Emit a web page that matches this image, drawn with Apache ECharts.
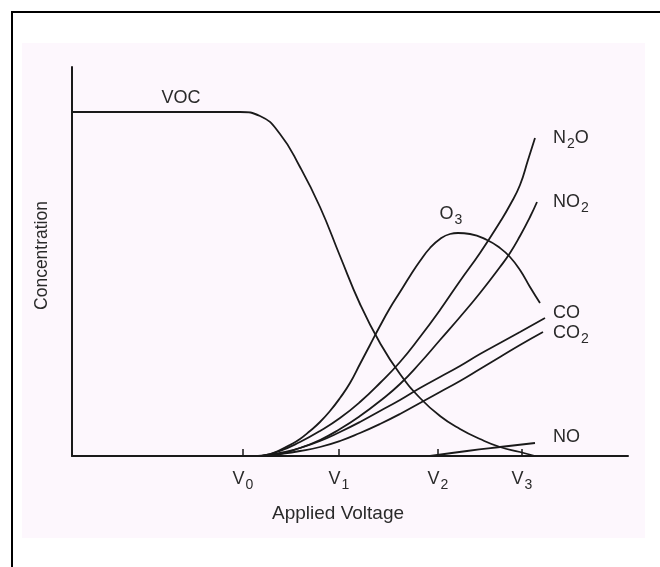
<!DOCTYPE html>
<html>
<head>
<meta charset="utf-8">
<script src="https://cdn.jsdelivr.net/npm/echarts@6/dist/echarts.min.js"></script>
<style>
html,body{margin:0;padding:0;background:#fff;overflow:hidden}
#frame{position:absolute;left:11px;top:11px;width:700px;height:600px;border-left:2px solid #000;border-top:2px solid #000}
#paper{position:absolute;left:22px;top:43px;width:623px;height:495px;background:#fdf7fd}
#c{position:absolute;left:0;top:0;width:660px;height:567px}
</style>
</head>
<body>
<div id="frame"></div>
<div id="paper"></div>
<div id="c"></div>
<script>
// ---- data (x in arbitrary voltage units, y in arbitrary concentration units) ----
const tickValues = [17.1, 26.7, 36.6, 45.0];
const tickSubs = ['0', '1', '2', '3'];

const vocX = [0, 10.9, 16.8, 18.8, 20.8, 22.8, 24.8, 26.8, 28.8, 30.8, 32.8, 34.8, 36.8, 38.8, 40.8, 42.8, 44.8, 46.3];
const vocY = [34.4, 34.4, 34.4, 34.0, 32.2, 28.9, 24.9, 20.0, 15.2, 11.3, 8.2, 5.8, 4.0, 2.7, 1.7, 0.9, 0.4, 0];

const o3X = [18.6, 19.8, 20.8, 21.8, 22.8, 23.8, 24.8, 25.8, 26.8, 27.8, 28.8, 29.8, 30.8, 31.8, 32.8, 33.8, 34.8, 35.8, 36.8, 37.8, 38.6, 39.8, 41.5, 42.8, 43.8, 44.8, 45.8, 46.8];
const o3Y = [0, 0.2, 0.6, 1.1, 1.7, 2.5, 3.4, 4.5, 5.8, 7.3, 9.2, 11.1, 13.0, 14.8, 16.4, 18.0, 19.5, 20.8, 21.7, 22.2, 22.3, 22.2, 21.6, 20.8, 19.9, 18.6, 16.9, 15.3];

const n2oX = [19.0, 20.8, 22.8, 24.8, 26.8, 28.8, 30.8, 32.8, 34.8, 36.8, 38.8, 40.8, 42.8, 43.8, 44.8, 45.6, 46.3];
const n2oY = [0, 0.5, 1.4, 2.5, 3.8, 5.4, 7.3, 9.4, 11.9, 14.6, 17.5, 20.3, 23.4, 25.1, 27.1, 29.6, 31.8];

const no2X = [19.0, 20.8, 22.8, 24.8, 26.8, 28.8, 30.8, 32.8, 34.8, 36.8, 38.8, 40.8, 42.8, 43.8, 44.8, 45.8, 46.5];
const no2Y = [0, 0.3, 0.8, 1.6, 2.7, 4.0, 5.5, 7.2, 9.3, 11.6, 13.9, 16.3, 18.9, 20.3, 22.0, 23.9, 25.4];

const coX = [19.0, 20.8, 22.8, 24.8, 26.8, 28.8, 30.8, 32.8, 34.8, 36.8, 38.8, 40.8, 42.8, 44.8, 47.3];
const coY = [0, 0.2, 0.8, 1.5, 2.4, 3.4, 4.5, 5.6, 6.8, 7.9, 9.0, 10.2, 11.3, 12.4, 13.8];

const co2X = [19.0, 20.8, 22.8, 24.8, 26.8, 28.8, 30.8, 32.8, 34.8, 36.8, 38.8, 40.8, 42.8, 44.8, 47.1];
const co2Y = [0, 0.2, 0.5, 0.9, 1.5, 2.3, 3.2, 4.2, 5.3, 6.4, 7.5, 8.7, 9.9, 11.1, 12.4];

const noX = [35.8, 39.5, 42.8, 46.3];
const noY = [0, 0.5, 0.9, 1.3];

// series labels: main text and subscript parts
const vocLabel = ['VOC'];
const o3Label = ['O', '3'];
const n2oLabel = ['N', '2', 'O'];
const no2Label = ['NO', '2'];
const coLabel = ['CO'];
const co2Label = ['CO', '2'];
const noLabel = ['NO'];

// ---- styling ----
const FONT = '"Liberation Sans", Arial, Helvetica, sans-serif';
const TXT = '#2a2a2a';
const LINE = '#1a1a1a';
const rich = {
  m: { fontSize: 18, color: TXT, fontFamily: FONT },
  s: { fontSize: 14, color: TXT, fontFamily: FONT, padding: [12, 0, 0, 1] }
};
function richText(parts) {
  return parts.map((p, i) => (i % 2 === 0 ? '{m|' + p + '}' : '{s|' + p + '}')).join('');
}

function makeSeries(name, xs, ys, labelParts, labelIdx, labelOpt) {
  const data = xs.map((x, i) => {
    const v = [x, ys[i]];
    if (i === labelIdx) {
      return {
        value: v,
        label: Object.assign({
          show: true,
          formatter: richText(labelParts),
          rich: rich
        }, labelOpt)
      };
    }
    return v;
  });
  return {
    type: 'line',
    name: name,
    data: data,
    smooth: 0.5,
    symbol: 'circle',
    symbolSize: 0,
    showSymbol: true,
    silent: true,
    label: { show: false },
    lineStyle: { color: LINE, width: 1.8 },
    itemStyle: { color: LINE },
    z: 3
  };
}

const series = [
  makeSeries('VOC', vocX, vocY, vocLabel, 1, { position: 'top', distance: 5 }),
  makeSeries('O3', o3X, o3Y, o3Label, 20, { position: 'top', distance: 6, offset: [-7, 0] }),
  makeSeries('N2O', n2oX, n2oY, n2oLabel, n2oX.length - 1, { position: 'right', distance: 18 }),
  makeSeries('NO2', no2X, no2Y, no2Label, no2X.length - 1, { position: 'right', distance: 16 }),
  makeSeries('CO', coX, coY, coLabel, coX.length - 1, { position: 'right', distance: 8, offset: [0, -5] }),
  makeSeries('CO2', co2X, co2Y, co2Label, co2X.length - 1, { position: 'right', distance: 10, offset: [0, 1] }),
  makeSeries('NO', noX, noY, noLabel, noX.length - 1, { position: 'right', distance: 18, offset: [0, -6] })
];

const chart = echarts.init(document.getElementById('c'), null, { renderer: 'canvas' });
chart.setOption({
  animation: false,
  backgroundColor: 'transparent',
  grid: { left: 72, right: 32, top: 67, bottom: 111, containLabel: false },
  xAxis: {
    type: 'value',
    min: 0,
    max: 55.6,
    name: 'Applied Voltage',
    nameLocation: 'middle',
    nameGap: 48,
    nameTextStyle: { fontSize: 19, color: TXT, fontFamily: FONT, padding: [0, 24, 0, 0] },
    axisLine: { show: true, lineStyle: { color: LINE, width: 2 } },
    axisTick: { show: true, inside: true, length: 7, customValues: tickValues, lineStyle: { color: LINE, width: 1.5 } },
    axisLabel: {
      show: true,
      customValues: tickValues,
      margin: 10,
      formatter: function (v) {
        let k = 0, best = Infinity;
        tickValues.forEach((t, i) => { const d = Math.abs(t - v); if (d < best) { best = d; k = i; } });
        return '{m|V}{s|' + tickSubs[k] + '}';
      },
      rich: rich
    },
    splitLine: { show: false }
  },
  yAxis: {
    type: 'value',
    min: 0,
    max: 38.9,
    name: 'Concentration',
    nameLocation: 'middle',
    nameGap: 21,
    nameRotate: 90,
    nameTextStyle: { fontSize: 17.5, color: TXT, fontFamily: FONT, padding: [0, 0, 0, 12] },
    axisLine: { show: true, lineStyle: { color: LINE, width: 2 } },
    axisTick: { show: false },
    axisLabel: { show: false },
    splitLine: { show: false }
  },
  series: series
});
</script>
</body>
</html>
